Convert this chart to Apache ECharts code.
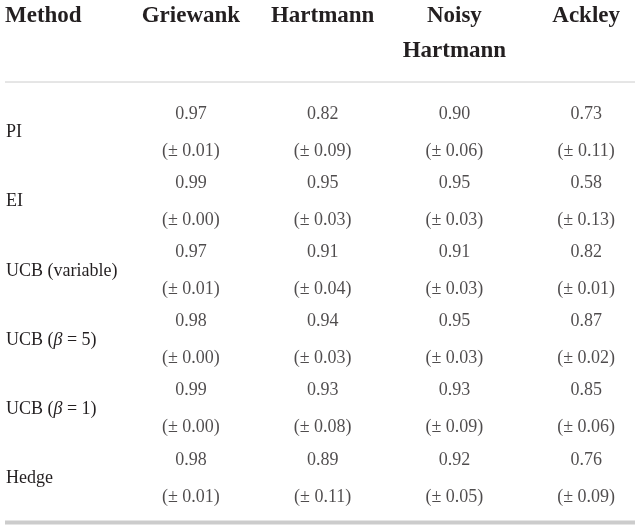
<!DOCTYPE html>
<html>
<head>
<meta charset="utf-8">
<script src="https://cdn.jsdelivr.net/npm/echarts@6/dist/echarts.min.js"></script>
<style>
  html, body { margin: 0; padding: 0; background: #fff; }
  #main { width: 641px; height: 529px; }
</style>
</head>
<body>
<div id="main"></div>
<script>
// table content
var methods = ['PI', 'EI', 'UCB (variable)', 'UCB (β = 5)', 'UCB (β = 1)', 'Hedge'];
var functions = ['Griewank', 'Hartmann', 'Noisy\nHartmann', 'Ackley'];
var firstHeader = 'Method';

// mean per method, one array per test function
var griewankMean = [0.97, 0.99, 0.97, 0.98, 0.99, 0.98];
var hartmannMean = [0.82, 0.95, 0.91, 0.94, 0.93, 0.89];
var noisyMean    = [0.90, 0.95, 0.91, 0.95, 0.93, 0.92];
var ackleyMean   = [0.73, 0.58, 0.82, 0.87, 0.85, 0.76];

// standard deviation per method
var griewankStd = [0.01, 0.00, 0.01, 0.00, 0.00, 0.01];
var hartmannStd = [0.09, 0.03, 0.04, 0.03, 0.08, 0.11];
var noisyStd    = [0.06, 0.03, 0.03, 0.03, 0.09, 0.05];
var ackleyStd   = [0.11, 0.13, 0.01, 0.02, 0.06, 0.09];

var means = [griewankMean, hartmannMean, noisyMean, ackleyMean];
var stds = [griewankStd, hartmannStd, noisyStd, ackleyStd];

var cells = [];
for (var c = 0; c < functions.length; c++) {
    for (var r = 0; r < methods.length; r++) {
        cells.push([c, r, means[c][r], stds[c][r]]);
    }
}

var serif = '"Liberation Serif", "DejaVu Serif", serif';
var ink = '#231f20';
var rule = '#cccccc';

var chart = echarts.init(document.getElementById('main'));

var option = {
    backgroundColor: '#fff',
    animation: false,
    grid: { left: 125, top: 98, right: -11, height: 415, outerBoundsMode: 'none' },
    xAxis: {
        type: 'category',
        position: 'top',
        data: functions,
        axisLine: { show: false },
        axisTick: { show: false },
        splitLine: { show: false },
        axisLabel: {
            interval: 0,
            margin: 99,
            verticalAlign: 'top',
            color: ink,
            fontFamily: serif,
            fontWeight: 'bold',
            fontSize: 23,
            lineHeight: 35
        }
    },
    yAxis: {
        type: 'category',
        inverse: true,
        data: methods,
        axisLine: { show: false },
        axisTick: { show: false },
        splitLine: { show: false },
        axisLabel: {
            interval: 0,
            margin: 119,
            align: 'left',
            color: ink,
            fontFamily: serif,
            fontSize: 18,
            formatter: function (v) {
                return v.replace('β', '{i|β}');
            },
            rich: {
                i: { fontStyle: 'italic', fontFamily: serif, fontSize: 18, color: ink }
            }
        }
    },
    series: [{
        type: 'scatter',
        data: cells,
        encode: { x: 0, y: 1 },
        symbolSize: 0,
        silent: true,
        label: {
            show: true,
            position: 'inside',
            color: ink,
            fontFamily: serif,
            fontSize: 18,
            lineHeight: 37,
            align: 'center',
            formatter: function (p) {
                return p.value[2].toFixed(2) + '\n(± ' + p.value[3].toFixed(2) + ')';
            }
        }
    }],
    graphic: [
        {
            type: 'text', left: 5, top: 5,
            style: { text: firstHeader, fill: ink, font: 'bold 23px ' + serif }
        },
        { type: 'line', shape: { x1: 5, y1: 82, x2: 635, y2: 82 }, style: { stroke: rule, lineWidth: 1 } },
        { type: 'line', shape: { x1: 5, y1: 522.5, x2: 635, y2: 522.5 }, style: { stroke: rule, lineWidth: 4 } }
    ]
};

chart.setOption(option);
</script>
</body>
</html>
